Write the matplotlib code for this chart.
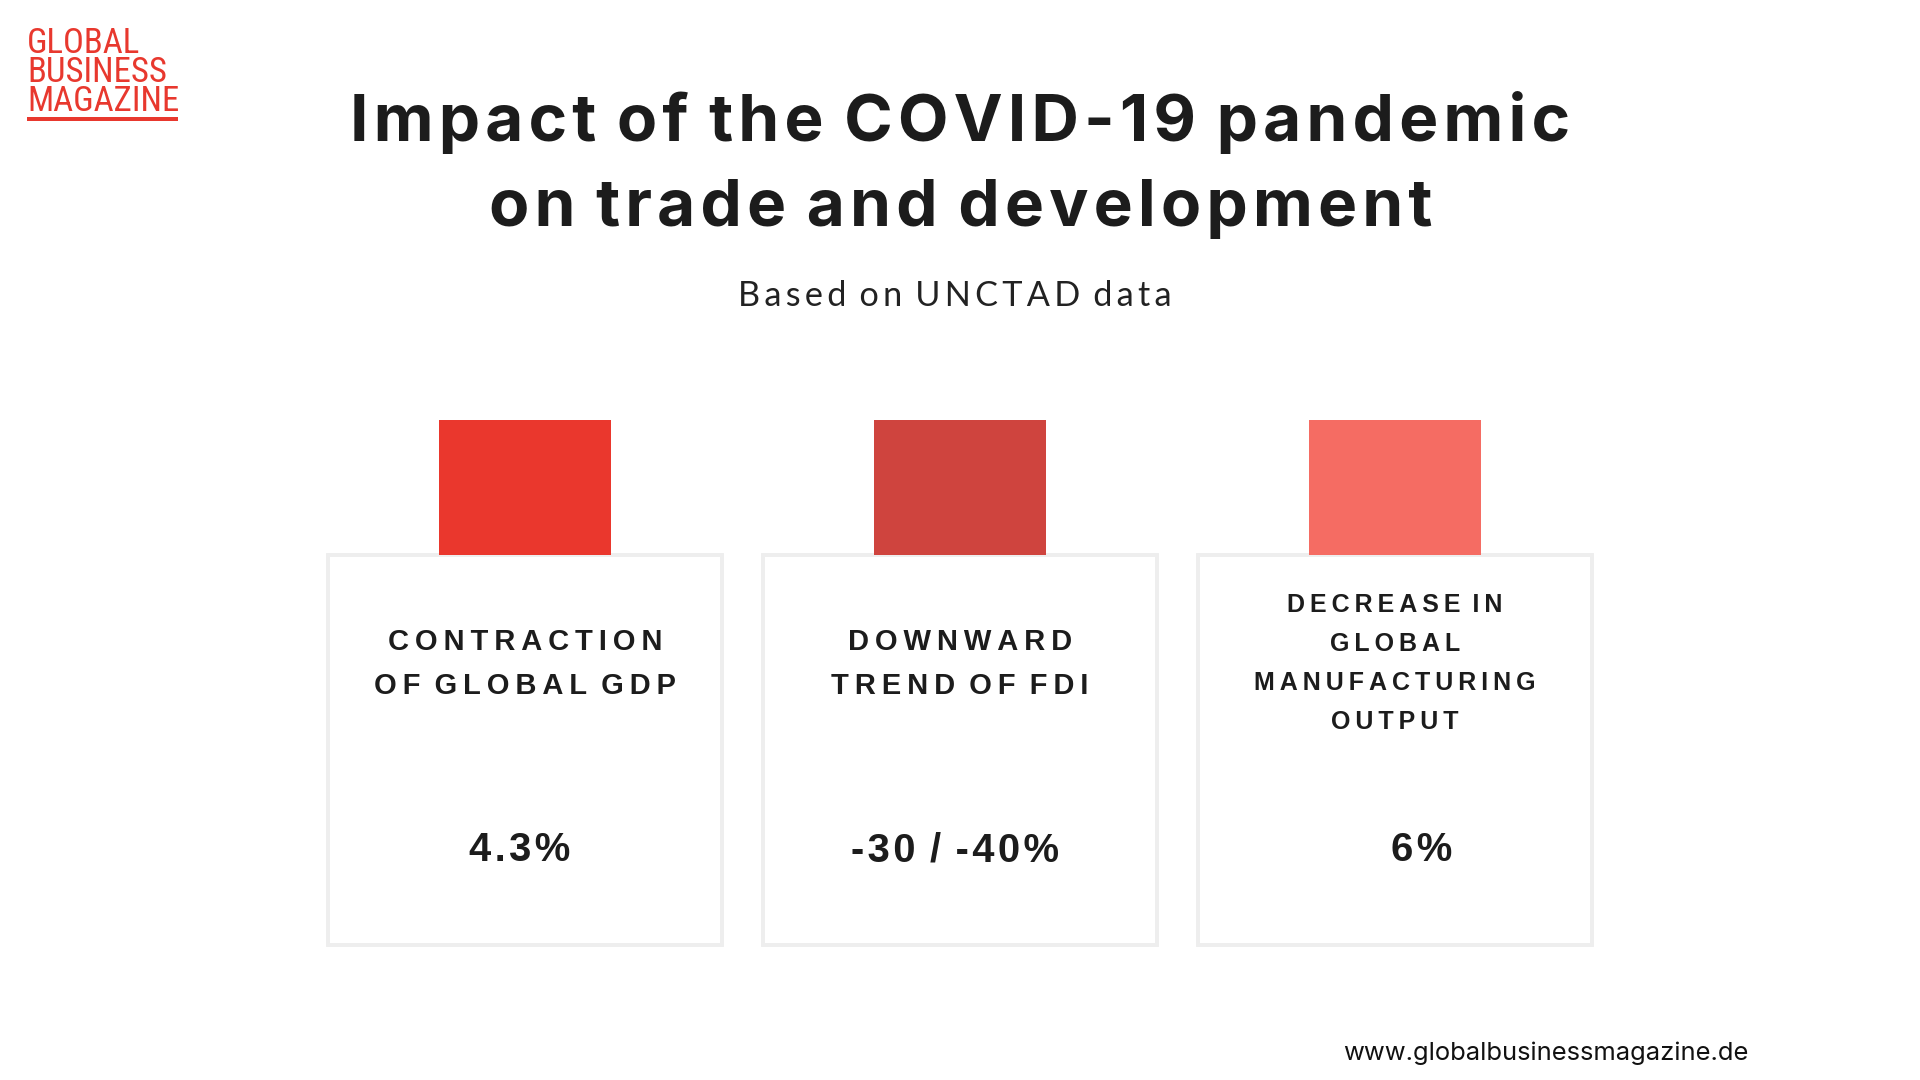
import matplotlib.pyplot as plt
from matplotlib.patches import Rectangle

# 数据
labels = ["CONTRACTION\nOF GLOBAL GDP",
          "DOWNWARD\nTREND OF FDI",
          "DECREASE IN\nGLOBAL\nMANUFACTURING\nOUTPUT"]
values = ["4.3%", "-30 / -40%", "6%"]
colors = ["#EA372D", "#CF443E", "#F56C63"]

title_lines = ["Impact of the COVID-19 pandemic", "on trade and development"]
subtitle = "Based on UNCTAD data"
logo_lines = ["GLOBAL", "BUSINESS", "MAGAZINE"]
website = "www.globalbusinessmagazine.de"

RED = "#E8382E"
DARK = "#1C1C1C"
THIN = "\u2009"
HAIR = "\u200a"


def spaced(s, sp=THIN):
    # 字母间距: 用细空格
    return (sp + " ").join(sp.join(w) for w in s.split(" "))


fig = plt.figure(figsize=(19.2, 10.8), dpi=100)
ax = fig.add_axes([0, 0, 1, 1])
ax.set_xlim(0, 1920)
ax.set_ylim(1080, 0)
ax.axis("off")
renderer = fig.canvas.get_renderer()


def fit(t, width):
    # 按目标宽度调整字号
    w = t.get_window_extent(renderer).width
    t.set_fontsize(t.get_fontsize() * width / w)
    return t.get_fontsize()


# 标题
t1 = ax.text(960, 141, spaced(title_lines[0], HAIR), ha="center",
             va="baseline", fontsize=47, fontweight="bold",
             family=["Inter", "DejaVu Sans"], color=DARK)
fs = fit(t1, 1222)
ax.text(961, 226, spaced(title_lines[1], HAIR), ha="center", va="baseline",
        fontsize=fs, fontweight="bold", family=["Inter", "DejaVu Sans"],
        color=DARK)

t = ax.text(955, 306, spaced(subtitle), ha="center", va="baseline",
            fontsize=22, family=["Lato", "DejaVu Sans"], color="#222222")
fit(t, 433)

# logo (一个多行文本)
ax.text(27, 111, "\n".join(logo_lines), ha="left", va="baseline",
        fontsize=25, linespacing=0.84,
        family=["Roboto Condensed", "Liberation Sans", "DejaVu Sans"],
        color=RED)
ax.add_patch(Rectangle((27, 117), 151, 4, color=RED, lw=0))

# 卡片
box_w, box_h, gap = 394, 390, 435
sq_w, sq_h = 172, 135
val_off = [-5, -5, 27]
val_texts = []
for i, (lab, val, c) in enumerate(zip(labels, values, colors)):
    x0 = 328 + i * gap
    cx = x0 + box_w / 2
    ax.add_patch(Rectangle((x0, 555), box_w, box_h, fill=False,
                           edgecolor="#EEEEEE", lw=2.8, zorder=1))
    ax.add_patch(Rectangle((cx - sq_w / 2, 420), sq_w, sq_h, color=c,
                           lw=0, zorder=2))
    lines = lab.split("\n")
    n = len(lines)
    step = 39 if n > 2 else 44
    size = 18 if n > 2 else 21
    for k, line in enumerate(lines):
        ax.text(cx, 661 + (k - (n - 1) / 2) * step, spaced(line),
                ha="center", va="center_baseline", fontsize=size,
                fontweight="bold", family=["Liberation Sans", "DejaVu Sans"],
                color=DARK)
    val_texts.append(ax.text(cx + val_off[i], 861, spaced(val, HAIR),
                             ha="center", va="baseline", fontsize=28,
                             fontweight="bold",
                             family=["Liberation Sans", "DejaVu Sans"],
                             color=DARK))
vs = fit(val_texts[1], 208)
for t in val_texts:
    t.set_fontsize(vs)

t = ax.text(1749, 1060, website, ha="right", va="baseline", fontsize=18.5,
            family=["Inter", "DejaVu Sans"], color="#111111")
fit(t, 406)

fig.savefig("out.png", dpi=100, facecolor="white")
